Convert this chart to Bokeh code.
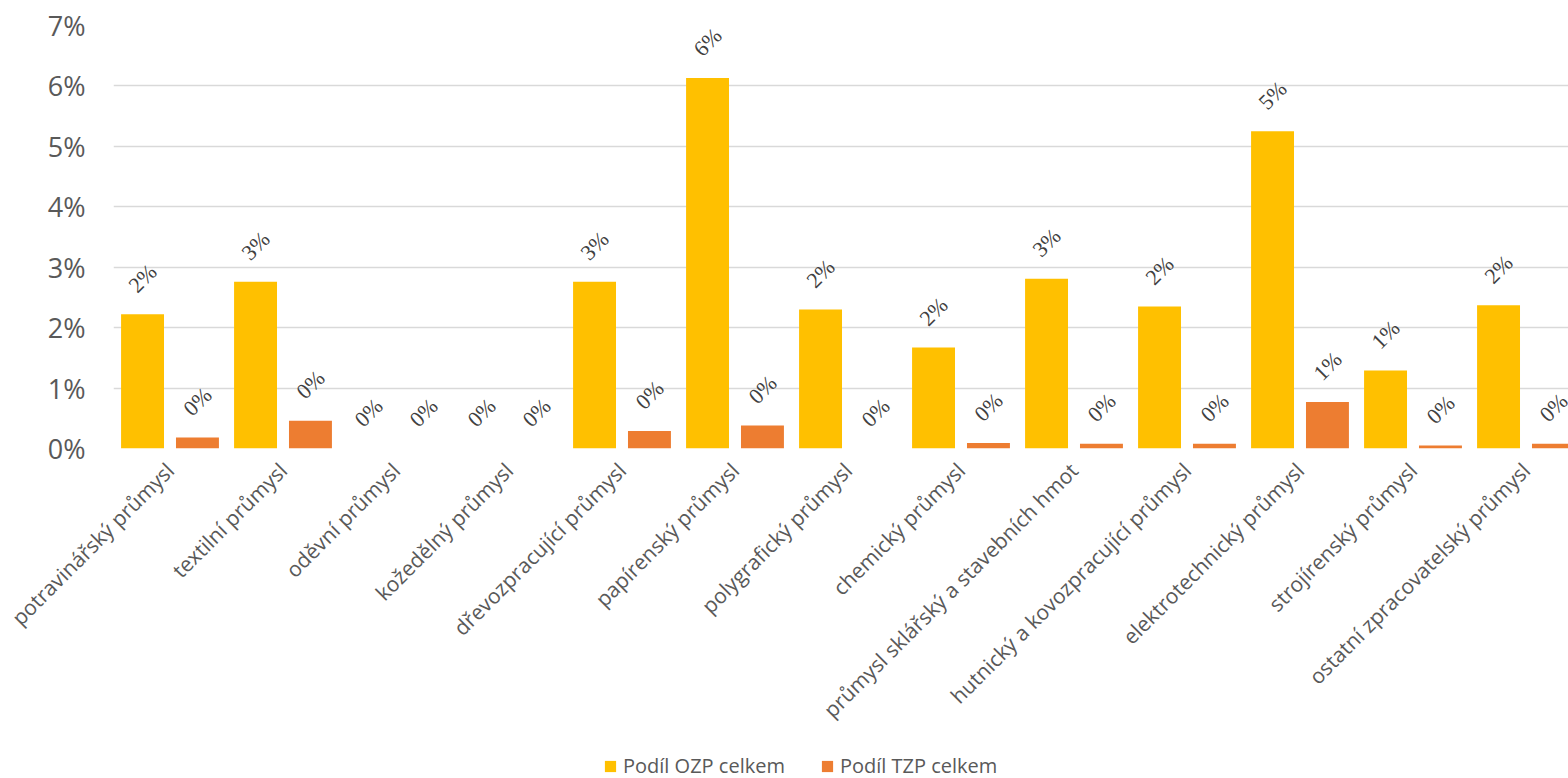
import numpy as np
from math import pi
from bokeh.plotting import figure
from bokeh.layouts import column
from bokeh.models import (ColumnDataSource, Range1d, FixedTicker, NumeralTickFormatter,
                          LabelSet, Legend, LegendItem)
from bokeh.embed import file_html
from bokeh.resources import INLINE

categories = [
    "potravinářský průmysl", "textilní průmysl", "oděvní průmysl", "kožedělný průmysl",
    "dřevozpracující průmysl", "papírenský průmysl", "polygrafický průmysl",
    "chemický průmysl", "průmysl sklářský a stavebních hmot",
    "hutnický a kovozpracující průmysl", "elektrotechnický průmysl",
    "strojírenský průmysl", "ostatní zpracovatelský průmysl",
]
ozp_pct = [2.22, 2.76, 0.0, 0.0, 2.76, 6.13, 2.30, 1.67, 2.81, 2.35, 5.25, 1.29, 2.37]
tzp_pct = [0.18, 0.46, 0.0, 0.0, 0.29, 0.38, 0.0, 0.09, 0.08, 0.08, 0.77, 0.05, 0.08]
series_names = ["Podíl OZP celkem", "Podíl TZP celkem"]
y_tick_pct = [0, 1, 2, 3, 4, 5, 6, 7]

FONT = "Open Sans"
YELLOW = "#FFC000"
ORANGE = "#ED7D31"
n = len(categories)
idx = np.arange(n)
bar_w = 0.38
shift = 0.243

ozp = np.array(ozp_pct) / 100.0
tzp = np.array(tzp_pct) / 100.0

src_ozp = ColumnDataSource(dict(x=idx - shift, top=ozp,
                                lbl=[f"{round(v * 100):.0f}%" for v in ozp]))
src_tzp = ColumnDataSource(dict(x=idx + shift, top=tzp,
                                lbl=[f"{round(v * 100):.0f}%" for v in tzp]))

cat_px = 113.0
frame_left = 113
fig_w = 1568
main_h = 740
legend_h = 38
x_end = -0.5 + (fig_w - frame_left) / cat_px

p = figure(width=fig_w, height=main_h, output_backend="svg", toolbar_location=None,
           x_range=Range1d(-0.5, x_end), y_range=Range1d(0, 0.07),
           min_border_left=frame_left, min_border_right=0, min_border_top=25,
           min_border_bottom=main_h - 448)
p.outline_line_color = None
p.background_fill_color = "white"
p.border_fill_color = "white"

p.vbar(x="x", top="top", width=bar_w, source=src_ozp, fill_color=YELLOW, line_color=None)
p.vbar(x="x", top="top", width=bar_w, source=src_tzp, fill_color=ORANGE, line_color=None)

# axes
p.yaxis.ticker = FixedTicker(ticks=[t / 100.0 for t in y_tick_pct])
p.yaxis.formatter = NumeralTickFormatter(format="0%")
p.yaxis.axis_line_color = None
p.yaxis.major_tick_line_color = None
p.yaxis.minor_tick_line_color = None
p.yaxis.major_tick_out = 0
p.yaxis.major_label_standoff = 28
p.yaxis.major_label_text_font = FONT
p.yaxis.major_label_text_font_size = "27px"
p.yaxis.major_label_text_color = "#595959"

p.xaxis.ticker = FixedTicker(ticks=list(idx))
p.xaxis.major_label_overrides = {int(i): c for i, c in zip(idx, categories)}
p.xaxis.major_label_orientation = pi / 4
p.xaxis.axis_line_color = None
p.xaxis.major_tick_line_color = None
p.xaxis.minor_tick_line_color = None
p.xaxis.major_tick_out = 0
p.xaxis.major_label_standoff = 18
p.xaxis.major_label_text_font = FONT
p.xaxis.major_label_text_font_size = "21px"
p.xaxis.major_label_text_color = "#595959"

p.xgrid.grid_line_color = None
p.ygrid.ticker = FixedTicker(ticks=[t / 100.0 for t in y_tick_pct])
p.ygrid.grid_line_color = "#D9D9D9"
p.ygrid.grid_line_width = 1.5

for src in (src_ozp, src_tzp):
    labels = LabelSet(x="x", y="top", text="lbl", source=src, angle=pi / 4,
                      y_offset=36, text_align="center", text_baseline="middle",
                      text_font=FONT, text_font_size="22px", text_color="#404040")
    p.add_layout(labels)

# legend strip below the chart (its frame is aligned with the chart's frame)
lf = figure(width=fig_w, height=legend_h, output_backend="svg", toolbar_location=None,
            x_axis_type=None, y_axis_type=None, x_range=Range1d(0, 1), y_range=Range1d(0, 1),
            min_border_left=0, min_border_right=0, min_border_top=0, min_border_bottom=0)
lf.outline_line_color = None
lf.grid.grid_line_color = None
lf.background_fill_color = "white"
lf.border_fill_color = "white"
# zero-height swatch carriers (draw nothing in the strip, only feed the legend)
l1 = lf.vbar(x="x", top="top", width=0, source=ColumnDataSource(dict(x=[0.0], top=[0.0])),
             fill_color=YELLOW, line_color=None)
l2 = lf.vbar(x="x", top="top", width=0, source=ColumnDataSource(dict(x=[0.0], top=[0.0])),
             fill_color=ORANGE, line_color=None)
legend = Legend(items=[LegendItem(label=series_names[0], renderers=[l1]),
                       LegendItem(label=series_names[1], renderers=[l2])],
                location=(490, -1), orientation="horizontal",
                glyph_width=14, glyph_height=14, label_standoff=6, spacing=35,
                padding=0, margin=0, border_line_color=None, background_fill_alpha=0,
                label_text_font=FONT, label_text_font_size="20px",
                label_text_color="#595959")
lf.add_layout(legend)

layout = column(p, lf, spacing=0)
open("out.html", "w").write(file_html(layout, INLINE))
